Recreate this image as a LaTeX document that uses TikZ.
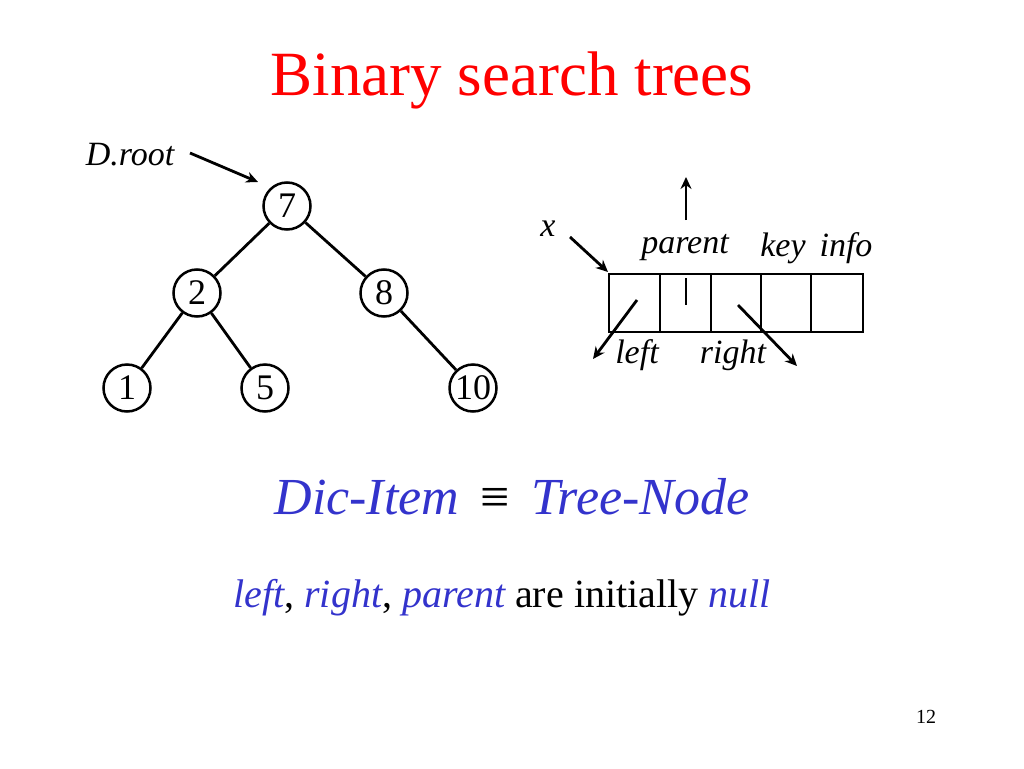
\documentclass[tikz,border=0pt]{standalone}
\usetikzlibrary{arrows.meta}
\usepackage{fontspec}
\setmainfont{Liberation Serif}
\definecolor{tblue}{RGB}{51,51,204}
\begin{document}
\begin{tikzpicture}[x=1pt,y=-1pt,
 tn/.style={circle,draw,line width=2.5pt,minimum size=47pt,inner sep=0pt,font=\fontsize{36}{36}\selectfont},
 ed/.style={line width=2.8pt},
 ar/.style={line width=2.8pt,-{Stealth[length=12pt,width=11pt]}},
 lab/.style={font=\fontsize{34}{34}\selectfont\itshape}]
\useasboundingbox (0,0) rectangle (1024,768);
\node[red,font=\fontsize{63}{63}\selectfont] (title) at (512,80) {Binary search trees};
\node[tn] (n7) at (287,206) {7};
\node[tn] (n2) at (197,293) {2};
\node[tn] (n8) at (384,293) {8};
\node[tn] (n1) at (127,388) {1};
\node[tn] (n5) at (265,388) {5};
\node[tn] (n10) at (473,388) {10};
\draw[ed] (n7)--(n2); \draw[ed] (n7)--(n8);
\draw[ed] (n2)--(n1); \draw[ed] (n2)--(n5); \draw[ed] (n8)--(n10);
\node[lab] (droot) at (130,155) {D.root};
\coordinate (ds) at (190,153);
\draw[ar] (ds) -- (258,182);
% record
\draw[line width=2.5pt] (609,274) rectangle (863,332);
\foreach \x in {660,711,761,811} \draw[line width=2.5pt] (\x,274)--(\x,332);
\node[lab] (xl) at (548,229) {x};
\coordinate (xs) at (570,237); \coordinate (xe) at (608,272);
\draw[ar] (xs)--(xe);
\node[lab] (par) at (685,248) {parent};
\node[lab] (key) at (783,248) {key};
\node[lab] (info) at (846,248) {info};
\coordinate (us) at (686,220); \coordinate (ue) at (686,177);
\draw[ar] (us)--(ue);
\draw[ed] (686,278)--(686,305);
\coordinate (ls) at (637,300); \coordinate (le) at (593,359);
\draw[ar] (ls)--(le);
\node[lab] (left) at (637,355) {left};
\coordinate (rs) at (738,305); \coordinate (re) at (797,366);
\draw[ar] (rs)--(re);
\node[lab] (right) at (733,355) {right};
\node[tblue,font=\fontsize{52}{52}\selectfont] (dic) at (512,497) {\textit{Dic-Item} \,{\color{black}≡}\, \textit{Tree-Node}};
\node[font=\fontsize{40}{40}\selectfont] (note) at (502,598) {{\color{tblue}\itshape left}, {\color{tblue}\itshape right}, {\color{tblue}\itshape parent} are initially {\color{tblue}\itshape null}};
\node[font=\fontsize{20}{20}\selectfont] (pg) at (926,717) {12};
\end{tikzpicture}
\end{document}
